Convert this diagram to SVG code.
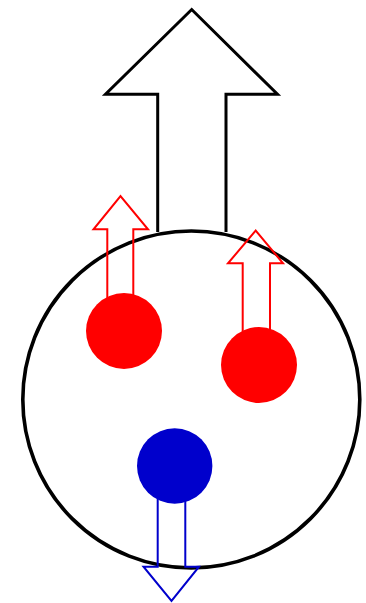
<svg xmlns="http://www.w3.org/2000/svg" width="366" height="603" viewBox="0 0 366 603">
<style>
.blk{fill:#fff;stroke:#000;stroke-width:3;stroke-linejoin:miter}
.ring{fill:none;stroke:#000;stroke-width:3.6}
.rarr{fill:none;stroke:#f00;stroke-width:2}
.barr{fill:none;stroke:#0000cc;stroke-width:2}
.red{fill:#f00}
.blue{fill:#0000cc}
</style>
<rect width="366" height="603" fill="#fff"/>
<g id="big-arrow">
<polyline class="blk" points="157.7,232 157.7,94.3 105.5,94.3 191.7,9.5 277.5,94.3 226,94.3 226,232"/>
</g>
<g id="body">
<circle class="ring" cx="191.3" cy="399.5" r="168.5"/>
</g>
<g id="arrows">
<polyline class="rarr" points="107.3,331 107.3,229.3 93.5,229.3 120.5,196 148,229.3 133.3,229.3 133.3,331"/>
<polyline class="rarr" points="242.7,365 242.7,263.3 228,263.3 255.7,230.5 283,263.3 270,263.3 270,365"/>
<polyline class="barr" points="157.7,466 157.7,566.7 143.5,566.7 171.5,601 199,566.7 185.3,566.7 185.3,466"/>
</g>
<g id="particle-red-1"><circle class="red" cx="124" cy="331" r="38"/></g>
<g id="particle-red-2"><circle class="red" cx="259" cy="365" r="38"/></g>
<g id="particle-blue"><circle class="blue" cx="174.7" cy="466" r="37.7"/></g>
</svg>
